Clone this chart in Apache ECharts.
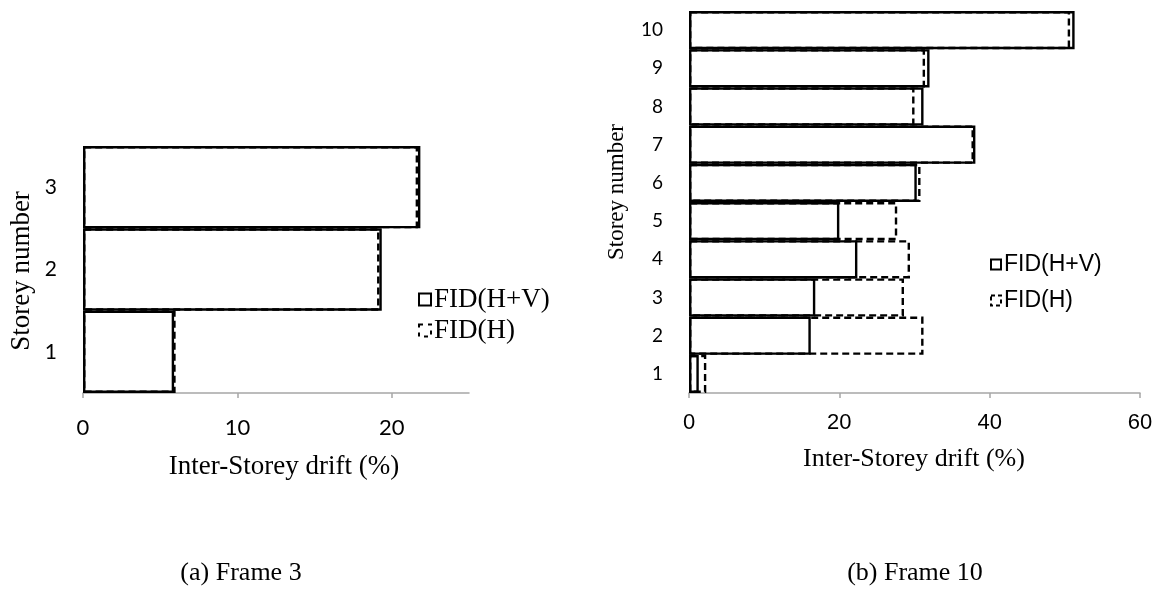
<!DOCTYPE html>
<html>
<head>
<meta charset="utf-8">
<script src="https://cdn.jsdelivr.net/npm/echarts@6/dist/echarts.min.js"></script>
<style>
  html, body { margin: 0; padding: 0; background: #fff; }
  #chart { width: 1163px; height: 602px; }
</style>
</head>
<body>
<div id="chart"></div>
<script>
// Frame 3: inter-storey drift per storey
const storeysF3 = ['1', '2', '3'];
const f3HV = [5.9, 19.35, 21.85];
const f3H = [6.0, 19.2, 21.7];

// Frame 10: inter-storey drift per storey
const storeysF10 = ['1', '2', '3', '4', '5', '6', '7', '8', '9', '10'];
const f10HV = [1.3, 16.2, 16.8, 22.4, 20.0, 30.3, 38.1, 31.2, 32.0, 51.3];
const f10H = [2.3, 31.2, 28.6, 29.4, 27.7, 30.8, 37.9, 30.0, 31.4, 50.7];

const xTicksF3 = { min: 0, max: 25, interval: 10 };
const xTicksF10 = { min: 0, max: 60, interval: 20 };

const serif = '"Liberation Serif", "Times New Roman", serif';
const calibriLike = 'Lato, "Open Sans", sans-serif';
const arialLike = '"Liberation Sans", Arial, sans-serif';

const chart = echarts.init(document.getElementById('chart'));

function barSeries(name, data, xi, dashed) {
  return {
    name: name,
    type: 'bar',
    xAxisIndex: xi,
    yAxisIndex: xi,
    data: data,
    barGap: '-100%',
    barCategoryGap: 0,
    itemStyle: {
      color: 'rgba(255,255,255,0)',
      borderColor: '#000',
      borderWidth: 2.4,
      borderType: dashed ? [7, 4] : 'solid'
    },
    emphasis: { disabled: true },
    silent: true,
    animation: false
  };
}

function valueAxis(gridIndex, ticks, labelFont, labelSize, margin) {
  return {
    type: 'value',
    gridIndex: gridIndex,
    min: ticks.min,
    max: ticks.max,
    interval: ticks.interval,
    splitLine: { show: false },
    axisLine: { show: true, lineStyle: { color: '#a6a6a6', width: 1.5 } },
    axisTick: { show: true, length: 5, lineStyle: { color: '#a6a6a6', width: 1.5 } },
    axisLabel: {
      color: '#000', fontFamily: labelFont, fontSize: labelSize, margin: margin,
      showMaxLabel: ticks.max % ticks.interval === 0
    }
  };
}

function categoryAxis(gridIndex, cats, size) {
  return {
    type: 'category',
    gridIndex: gridIndex,
    data: cats,
    axisLine: { show: false },
    axisTick: { show: false },
    axisLabel: { color: '#000', fontFamily: calibriLike, fontSize: size, margin: 26 }
  };
}

function legendData(dashPattern) {
  return [
    { name: 'FID(H+V)', itemStyle: { color: '#fff', borderColor: '#000', borderWidth: 2, borderType: 'solid' } },
    { name: 'FID(H)', itemStyle: { color: '#fff', borderColor: '#000', borderWidth: 2, borderType: dashPattern } }
  ];
}

function label(text, x, y, size, rotate) {
  return {
    type: 'text',
    x: x, y: y,
    rotation: rotate ? Math.PI / 2 : 0,
    style: {
      text: text, fill: '#000', font: size + 'px ' + serif,
      align: 'center', verticalAlign: 'middle'
    },
    silent: true
  };
}

chart.setOption({
  backgroundColor: '#fff',
  animation: false,
  graphic: [
    label('Storey number', 22, 271, 27, true),
    label('Inter-Storey drift (%)', 284, 467, 27, false),
    label('Storey number', 617, 192, 23, true),
    label('Inter-Storey drift (%)', 914, 459, 26, false),
    label('(a) Frame 3', 241, 573, 26, false),
    label('(b) Frame 10', 915, 573, 26, false)
  ],
  grid: [
    { left: 83, right: 694, top: 146, bottom: 209, containLabel: false },
    { left: 689, right: 23, top: 11, bottom: 209, containLabel: false }
  ],
  legend: [
    {
      data: legendData([4, 5]),
      orient: 'vertical',
      left: 413, top: 281,
      itemWidth: 12, itemHeight: 12, itemGap: 4,
      selectedMode: false,
      textStyle: { fontFamily: serif, fontSize: 27, color: '#000', padding: [0, 0, 0, -2] },
      icon: 'rect'
    },
    {
      data: legendData([4, 3]),
      orient: 'vertical',
      left: 985, top: 248,
      itemWidth: 10, itemHeight: 10, itemGap: 13,
      selectedMode: false,
      textStyle: { fontFamily: arialLike, fontSize: 23, color: '#000', padding: [0, 0, 0, -2] },
      icon: 'rect'
    }
  ],
  xAxis: [
    valueAxis(0, xTicksF3, calibriLike, 22, 24),
    valueAxis(1, xTicksF10, arialLike, 22, 19)
  ],
  yAxis: [
    categoryAxis(0, storeysF3, 21),
    categoryAxis(1, storeysF10, 19)
  ],
  series: [
    barSeries('FID(H+V)', f3HV, 0, false),
    barSeries('FID(H)', f3H, 0, true),
    barSeries('FID(H+V)', f10HV, 1, false),
    barSeries('FID(H)', f10H, 1, true)
  ]
});
</script>
</body>
</html>
